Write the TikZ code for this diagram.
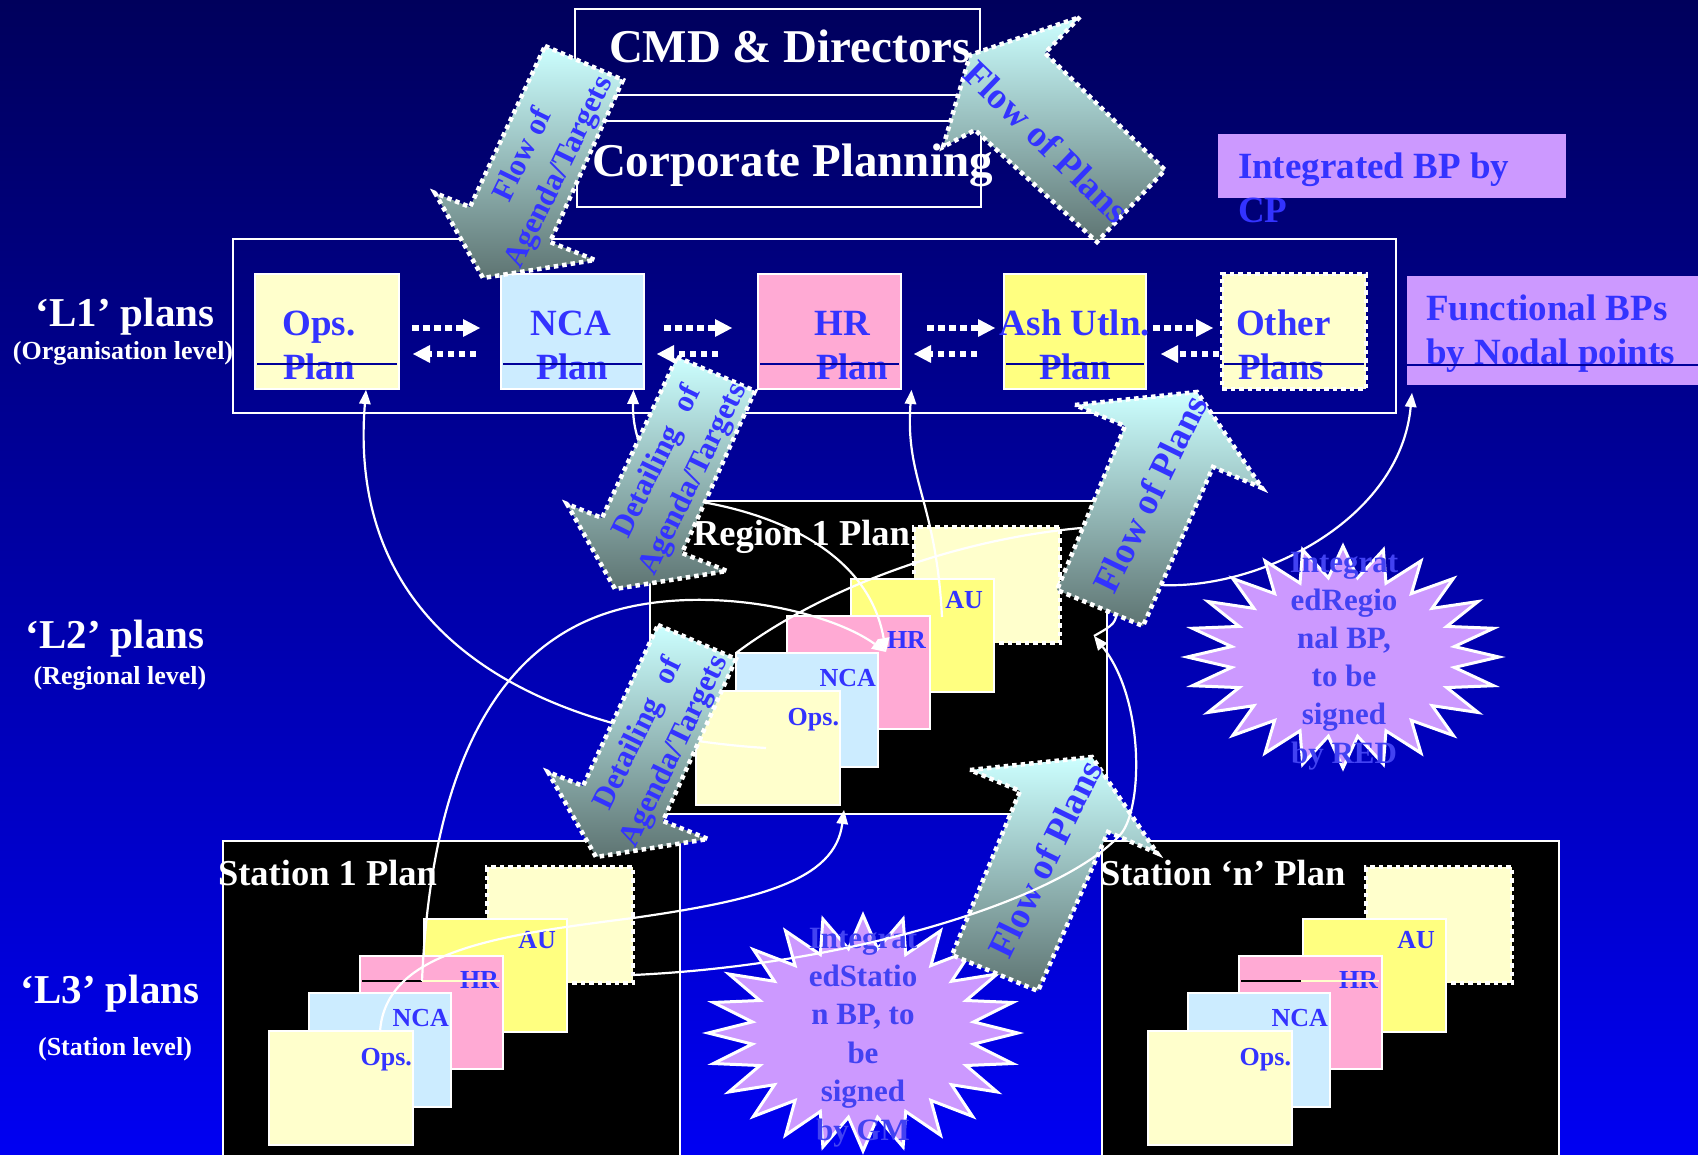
\documentclass[tikz,border=0pt]{standalone}
\usepackage{fontspec}
\setmainfont{Liberation Serif}
\usetikzlibrary{arrows.meta,calc}
\definecolor{lyel}{HTML}{FFFFCC}
\definecolor{lblu}{HTML}{CCECFF}
\definecolor{lpink}{HTML}{FFAAD4}
\definecolor{yel}{HTML}{FFFF80}
\definecolor{purp}{HTML}{CC99FF}
\definecolor{tblue}{HTML}{3333FF}
\definecolor{sblue}{HTML}{4242F2}
\definecolor{navyline}{HTML}{000099}
\definecolor{arrtop}{HTML}{CCFFFF}
\definecolor{arrbot}{HTML}{5E7472}
\definecolor{bgtop}{HTML}{00005C}
\definecolor{bgbot}{HTML}{0000F2}
\newcommand{\fsz}[2]{\fontsize{#1pt}{#2pt}\selectfont}
\newcommand{\mystar}[4]{%
  \draw[starsty] plot[samples at={0,1,...,47}, variable=\k]
   ({#1+(1-0.28*mod(\k,2))*#3*cos(90+7.5*\k)}, {#2-(1-0.28*mod(\k,2))*#4*sin(90+7.5*\k)}) -- cycle;}
\begin{document}
\begin{tikzpicture}[x=1pt,y=-1pt,
  every node/.style={inner sep=0pt, outer sep=0pt},
  rect/.style={anchor=north west, draw=white, line width=2.5pt},
  dotrect/.style={anchor=north west, draw=white, line width=4.5pt, dash pattern=on 4.5pt off 4pt},
  wtxt/.style={text=white, font=\bfseries\fsz{47}{52}},
  btxt/.style={text=tblue, font=\bfseries\fsz{37}{44}},
  ctxt/.style={text=tblue, font=\bfseries\fsz{26}{30}},
  lvl/.style={text=white, font=\bfseries\fsz{41}{46}},
  lvls/.style={text=white, font=\bfseries\fsz{26}{30}},
  plabel/.style={text=white, font=\bfseries\fsz{36.5}{40}},
  stxt/.style={text=sblue, font=\bfseries\fsz{31}{38}},
  atxt/.style={text=tblue, font=\bfseries\fsz{31}{40}, align=center},
  atxtb/.style={text=tblue, font=\bfseries\fsz{37}{44}, align=center},
  dotarr/.style={draw=white, line width=6.5pt, dash pattern=on 6.5pt off 4.5pt, -{Triangle[length=17pt,width=18pt,line width=0pt]}},
  conn/.style={draw=white, line width=2.2pt, -{Triangle[length=14pt,width=12pt,line width=0pt]}},
  plainconn/.style={draw=white, line width=2.2pt},
  blockarr/.style={top color=arrtop, bottom color=arrbot, draw=white, line width=4.5pt, dash pattern=on 4.5pt off 4pt},
  starsty/.style={fill=purp, draw=white, line width=3pt},
  strike/.style={draw=navyline, line width=1.5pt}
]
\useasboundingbox (0,0) rectangle (1698,1155);
\shade[top color=bgtop, bottom color=bgbot] (0,0) rectangle (1698,1155);

% top boxes
\node[rect, minimum width=405pt, minimum height=86pt] (cmd) at (575,9) {};
\node[rect, minimum width=404pt, minimum height=86pt] (cp) at (577,121) {};
\node[wtxt, anchor=base west] (cmdt) at (609,63) {CMD \& Directors};
\node[wtxt, anchor=base west] (cpt) at (592,177) {Corporate Planning};

% L1
\node[rect, minimum width=1163pt, minimum height=174pt] (l1box) at (233,239) {};
\node[rect, fill=lyel, minimum width=144pt, minimum height=115pt] (ops) at (255,274) {};
\node[rect, fill=lblu, minimum width=143pt, minimum height=115pt] (nca) at (501,274) {};
\node[rect, fill=lpink, minimum width=143pt, minimum height=115pt] (hr) at (758,274) {};
\node[rect, fill=yel, minimum width=142pt, minimum height=115pt] (ash) at (1004,274) {};
\node[dotrect, fill=lyel, minimum width=144pt, minimum height=115pt] (oth) at (1222,274) {};
\node[btxt, anchor=base] (opst1) at (319,336) {Ops.};
\node[btxt, anchor=base] (opst2) at (319,380) {Plan};
\node[btxt, anchor=base] (ncat1) at (571,336) {NCA};
\node[btxt, anchor=base] (ncat2) at (572,380) {Plan};
\node[btxt, anchor=base] (hrt1) at (842,336) {HR};
\node[btxt, anchor=base] (hrt2) at (852,380) {Plan};
\node[btxt, anchor=base] (asht1) at (1075,336) {Ash Utln.};
\node[btxt, anchor=base] (asht2) at (1075,380) {Plan};
\node[btxt, anchor=base west] (otht1) at (1236,336) {Other};
\node[btxt, anchor=base west] (otht2) at (1238,380) {Plans};
\foreach \n in {ops,nca,hr,ash,oth}
  \draw[strike] ($(\n.west)+(2,32.5)$) -- ($(\n.east)+(-2,32.5)$);

% dotted arrows between L1 plans
\draw[dotarr] ($(ops.east)+(13,-3.5)$) -- ($(nca.west)+(-21,-3.5)$);
\draw[dotarr] ($(nca.west)+(-25,22.5)$) -- ($(ops.east)+(14,22.5)$);
\draw[dotarr] ($(nca.east)+(20,-3.5)$) -- ($(hr.west)+(-26,-3.5)$);
\draw[dotarr] ($(hr.west)+(-40,22.5)$) -- ($(nca.east)+(13,22.5)$);
\draw[dotarr] ($(hr.east)+(26,-3.5)$) -- ($(ash.west)+(-9,-3.5)$);
\draw[dotarr] ($(ash.west)+(-27,22.5)$) -- ($(hr.east)+(13,22.5)$);
\draw[dotarr] ($(ash.east)+(7,-3.5)$) -- ($(oth.west)+(-9,-3.5)$);
\draw[dotarr] ($(oth.west)+(-3,22.5)$) -- ($(ash.east)+(15,22.5)$);

% purple boxes
\node[anchor=north west, fill=purp, minimum width=348pt, minimum height=64pt] (ibp) at (1218,134) {};
\node[btxt, anchor=base west] (ibpt1) at (1238,179) {Integrated BP by};
\node[btxt, anchor=base west] (ibpt2) at (1238,223) {CP};
\node[anchor=north west, fill=purp, minimum width=295pt, minimum height=109pt] (fbp) at (1407,276) {};
\node[btxt, anchor=base west] (fbpt1) at (1426,321) {Functional BPs};
\node[btxt, anchor=base west] (fbpt2) at (1426,365) {by Nodal points};
\draw[strike] ($(fbp.west)+(0,34.5)$) -- ($(fbp.east)+(0,34.5)$);

% level labels
\node[lvl, anchor=base] (l1) at (125,327) {‘L1’ plans};
\node[lvls, anchor=base] (l1s) at (123,360) {(Organisation level)};
\node[lvl, anchor=base] (l2) at (115,648) {‘L2’ plans};
\node[lvls, anchor=base] (l2s) at (120,684) {(Regional level)};
\node[lvl, anchor=base] (l3) at (110,1003) {‘L3’ plans};
\node[lvls, anchor=base] (l3s) at (115,1055) {(Station level)};

% region and station boxes
\node[rect, fill=black, minimum width=457pt, minimum height=313pt] (reg) at (650,501) {};
\node[rect, fill=black, minimum width=457pt, minimum height=320pt] (st1) at (223,841) {};
\node[rect, fill=black, minimum width=457pt, minimum height=320pt] (stn) at (1102,841) {};
\node[plabel, anchor=base west] (regl) at (693,545) {Region 1 Plan};
\node[plabel, anchor=base west] (st1l) at (218,885) {Station 1 Plan};
\node[plabel, anchor=base west] (stnl) at (1100,885) {Station ‘n’ Plan};

\foreach \p/\sx/\sy in {sa/0/0, rg/427/-340, sb/879/0} {
 \begin{scope}[shift={(\sx,\sy)}]
  \node[dotrect, fill=lyel, minimum width=146pt, minimum height=116pt] (\p-dot) at (487,867) {};
  \node[rect, fill=yel, minimum width=143pt, minimum height=113pt] (\p-au) at (424,919) {};
  \node[rect, fill=lpink, minimum width=143pt, minimum height=113pt] (\p-hr) at (360,956) {};
  \node[rect, fill=lblu, minimum width=142pt, minimum height=114pt] (\p-nca) at (309,993) {};
  \node[rect, fill=lyel, minimum width=144pt, minimum height=114pt] (\p-ops) at (269,1031) {};
  \node[ctxt, anchor=base east] (\p-aut) at (556,948) {AU};
  \node[ctxt, anchor=base east] (\p-hrt) at (499,988) {HR};
  \node[ctxt, anchor=base east] (\p-ncat) at (449,1026) {NCA};
  \node[ctxt, anchor=base east] (\p-opst) at (412,1065) {Ops.};
 \end{scope}
}
\foreach \sx in {0,879} {
 \begin{scope}[shift={(\sx,0)}]
  \draw[black, line width=1.2pt] (362,981) -- (422,981);
  \draw[lyel, line width=1.2pt] (422,981) -- (500,981);
 \end{scope}
}

% connectors
\coordinate (c1s) at (766,748);
\coordinate (c1e) at ($(ops.south)+(39,1)$);
\draw[conn] (c1s) .. controls (560,735) and (345,650) .. (c1e);
\coordinate (c2m) at (690,500);
\coordinate (c2e) at ($(nca.south)+(61,1)$);
\coordinate (hrtip) at (886,652);
\draw[conn] (c2m) .. controls (650,480) and (632,440) .. (c2e);
\draw[conn] (c2m) .. controls (790,515) and (870,560) .. (hrtip);
\coordinate (c4s) at (422,981);
\coordinate (c4m) at (629,607);
\draw[conn] (c4s) .. controls (430,800) and (480,640) .. (c4m) .. controls (720,587) and (830,612) .. (hrtip);
\coordinate (c5s) at (942,617);
\coordinate (c5e) at ($(hr.south)+(82,1)$);
\draw[conn] (c5s) .. controls (936,500) and (905,480) .. (c5e);
\coordinate (c7s) at (380,1032);
\coordinate (c7m) at (633,918);
\coordinate (c7e) at (844,810);
\draw[conn] (c7s) .. controls (385,950) and (500,935) .. (c7m) .. controls (760,900) and (835,880) .. (c7e);
\coordinate (c6s) at (rg-nca.north west);
\coordinate (c6a) at (1081,528);
\coordinate (c6b) at (1160,585);
\coordinate (c6e) at ($(fbp.south west)+(5,8)$);
\draw[conn] (c6s) .. controls (820,590) and (950,540) .. (c6a) -- (c6b) .. controls (1260,590) and (1400,520) .. (c6e);
\coordinate (hooks) at (1118,608);
\coordinate (c8e) at (1094,636);
\draw[plainconn] (hooks) .. controls (1115,624) .. (c8e);

% starbursts
\mystar{1343}{657}{156}{111}
\mystar{863}{1033}{155}{118}
\foreach \t [count=\i] in {Integrat, edRegio, {nal BP,}, to be, signed, by RED}
  \node[stxt, anchor=base] (rs\i) at (1344,{572+38.2*(\i-1)}) {\t};
\foreach \t [count=\i] in {Integrat, edStatio, {n BP, to}, be, signed, by GM}
  \node[stxt, anchor=base] (ss\i) at (863,{948+38.4*(\i-1)}) {\t};

% block arrows
\shade[blockarr] (545,46) -- (623,80) -- (550,242) -- (595,260) -- (483,278) -- (435,193) -- (470,207) -- cycle;
\node[atxt, rotate=64] (ta) at (542,164) {Flow of\\Agenda/Targets};
\begin{scope}[shift={(132,311)}]
\shade[blockarr] (545,46) -- (623,80) -- (550,242) -- (595,260) -- (483,278) -- (435,193) -- (470,207) -- cycle;
\end{scope}
\node[atxt, rotate=64] (tc) at (676,471) {Detailing\hspace{0.6em}of\\Agenda/Targets};
\begin{scope}[shift={(113,579)}]
\shade[blockarr] (545,46) -- (623,80) -- (550,242) -- (595,260) -- (483,278) -- (435,193) -- (470,207) -- cycle;
\end{scope}
\node[atxt, rotate=64] (td) at (657,743) {Detailing\hspace{0.6em}of\\Agenda/Targets};
\shade[blockarr] (1080,17) -- (1045,53) -- (1165,170) -- (1097,242) -- (975,130) -- (943,147) -- (970,55) -- cycle;
\node[atxtb, rotate=-44] (tb) at (1047,142) {Flow of Plans};
\shade[blockarr] (1075,405) -- (1197,392) -- (1262,488) -- (1213,467) -- (1143,626) -- (1057,590) -- (1125,426) -- cycle;
\node[atxtb, rotate=64] (te) at (1150,494) {Flow of Plans};
\begin{scope}[shift={(-105,365)}]
\shade[blockarr] (1075,405) -- (1197,392) -- (1262,488) -- (1213,467) -- (1143,626) -- (1057,590) -- (1125,426) -- cycle;
\end{scope}
\node[atxtb, rotate=64] (tf) at (1045,859) {Flow of Plans};

% connector over the lower arrow
\coordinate (c8s) at (sa-dot.east);
\draw[conn] ($(c8s)+(0,50)$) .. controls (850,965) and (1060,900) .. (1120,835) .. controls (1143,810) and (1145,700) .. (c8e);
\end{tikzpicture}
\end{document}
